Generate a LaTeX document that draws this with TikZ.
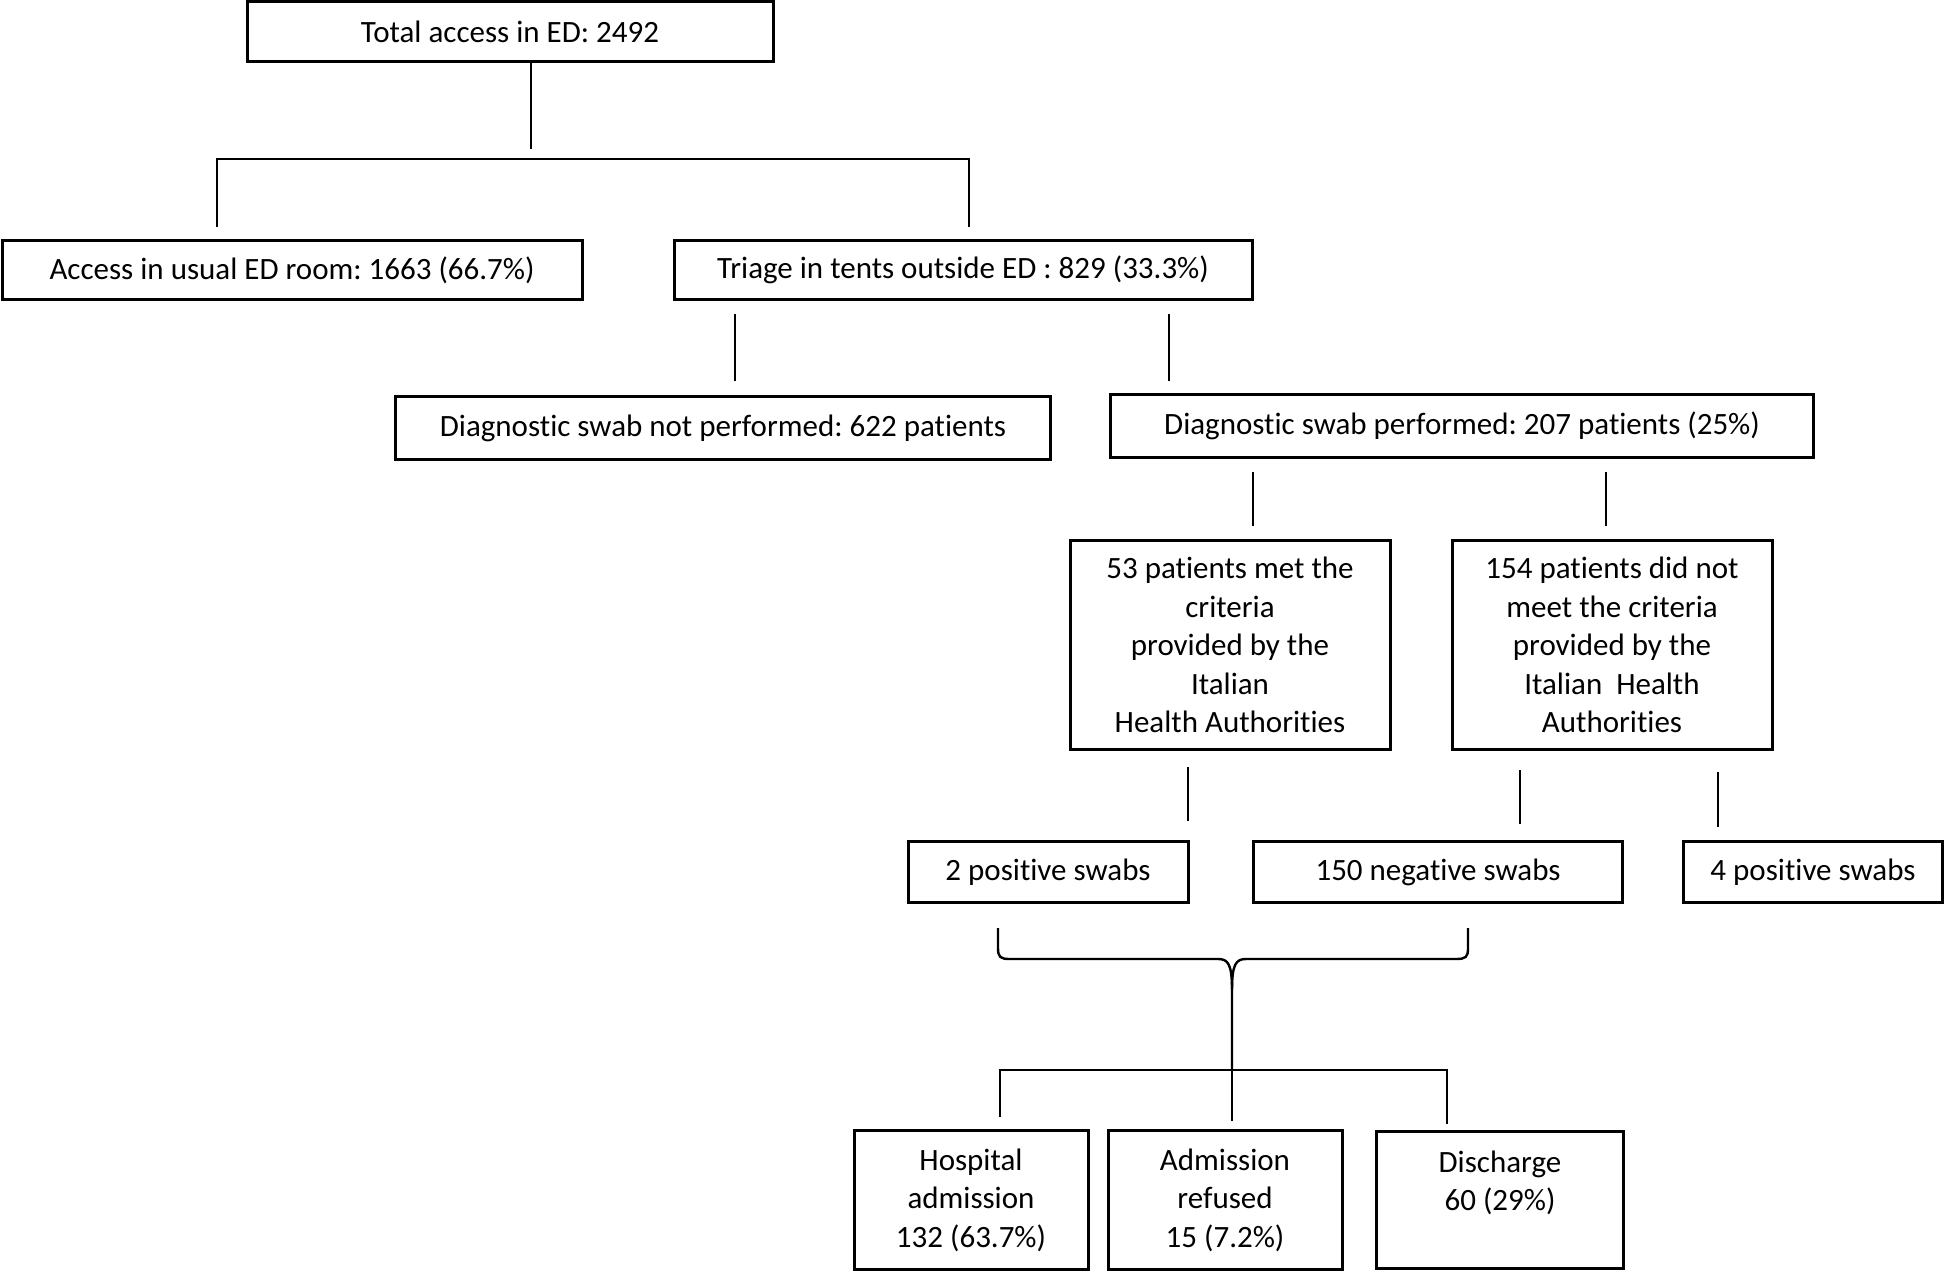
\documentclass[tikz,border=0pt]{standalone}
\usepackage{fontspec}
\setmainfont{Carlito}[Ligatures={NoCommon,NoContextual}, Contextuals={NoAlternate}]
\usepackage{tikz}
\usetikzlibrary{positioning}
\frenchspacing

\begin{document}
\begin{tikzpicture}[x=0.5pt, y=-0.5pt]
\tikzstyle{box} = [rectangle, draw, line width=1.5pt, inner sep=0pt, align=center, font=\fontsize{15.5}{19.2}\selectfont]
\tikzstyle{link} = [line width=1.2pt]

\useasboundingbox (0,0) rectangle (1946,1272);

% boxes
\node (total) [box, minimum width=263pt, minimum height=30pt] at (510,32) {Total access in ED: 2492};
\node (usual) [box, minimum width=290pt, minimum height=29.5pt] at (292,270) {Access in usual ED room: 1663 (66.7\%)};
\node (triage) [box, minimum width=289pt, minimum height=29.5pt] at (963,270) {Triage in tents outside ED : 829 (33.3\%)};
\node (noswab) [box, minimum width=327.5pt, minimum height=31pt] at (723,428) {Diagnostic swab not performed: 622 patients};
\node (swab) [box, minimum width=351.5pt, minimum height=31pt] at (1462,426) {Diagnostic swab performed: 207 patients (25\%)};
\node (met) [box, minimum width=160pt, minimum height=104.5pt] at (1230,645) {53 patients met the\\criteria\\provided by the\\Italian\\Health Authorities};
\node (notmet) [box, minimum width=160pt, minimum height=104.5pt] at (1612,645) {154 patients did not\\meet the criteria\\provided by the\\Italian\ \ Health\\Authorities};
\node (pos2) [box, minimum width=140pt, minimum height=30.5pt] at (1048,872) {2 positive swabs};
\node (neg150) [box, minimum width=184.5pt, minimum height=30.5pt] at (1438,872) {150 negative swabs};
\node (pos4) [box, minimum width=129.5pt, minimum height=30.5pt] at (1813,872) {4 positive swabs};
\node (hosp) [box, minimum width=117pt, minimum height=69.5pt] at (971,1200) {Hospital\\admission\\132 (63.7\%)};
\node (refused) [box, minimum width=117pt, minimum height=69.5pt] at (1225,1200) {Admission\\refused\\15 (7.2\%)};
\node (disch) [box, minimum width=123.5pt, minimum height=68.5pt] at (1500,1200) {Discharge\\60 (29\%)\\\phantom{0}};

% line ends
\coordinate (tot a) at (531,62);  \coordinate (tot b) at (531,149);
\coordinate (usual up) at (217,227); \coordinate (triage up) at (969,227);
\coordinate (tri a) at (735,314);  \coordinate (tri b) at (735,381);
\coordinate (tri c) at (1169,314); \coordinate (tri d) at (1169,381);
\coordinate (sw a) at (1253,472);  \coordinate (sw b) at (1253,526);
\coordinate (sw c) at (1606,472);  \coordinate (sw d) at (1606,526);
\coordinate (met a) at (1188,767); \coordinate (met b) at (1188,821);
\coordinate (nm a) at (1520,770);  \coordinate (nm b) at (1520,824);
\coordinate (nm c) at (1718,772);  \coordinate (nm d) at (1718,827);
\coordinate (bra l) at (998,928);  \coordinate (bra r) at (1468,928);
\coordinate (jn) at (1232,1070);
\coordinate (hosp up) at (1000,1117); \coordinate (ref up) at (1232,1121); \coordinate (dis up) at (1447,1124);

% connectors
\draw [link] (tot a) -- (tot b);
\draw [link] (usual up) -- ++(0,-68) -| (triage up);
\draw [link] (tri a) -- (tri b);
\draw [link] (tri c) -- (tri d);
\draw [link] (sw a) -- (sw b);
\draw [link] (sw c) -- (sw d);
\draw [link] (met a) -- (met b);
\draw [link] (nm a) -- (nm b);
\draw [link] (nm c) -- (nm d);

% brace
\draw [link] (bra l) -- (998,948) .. controls (998,957) and (1000,959) .. (1010,959) -- (1218,959) .. controls (1228,959) and (1232,964) .. (1232,990) -- (jn);
\draw [link] (bra r) -- (1468,948) .. controls (1468,957) and (1466,959) .. (1456,959) -- (1246,959) .. controls (1236,959) and (1232,964) .. (1232,990);

\draw [link] (hosp up) -- (hosp up |- jn) -- (dis up |- jn) -- (dis up);
\draw [link] (jn) -- (ref up);

\end{tikzpicture}
\end{document}
